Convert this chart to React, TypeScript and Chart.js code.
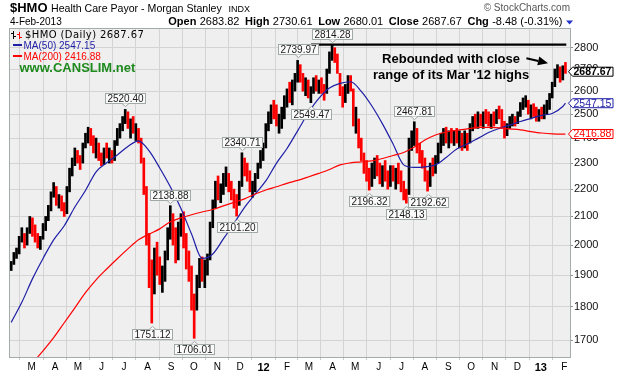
import { useEffect, useRef } from "react";
import { Chart, registerables } from "chart.js";

Chart.register(...registerables);

// ---- data (days counted from 1 Jan 2011) ----
const FIRST_BAR_DAY = 32;
const BAR_STEP_DAYS = 3.5;

const HIGHS = [
  1945, 1975, 1990, 2030, 2060, 2040, 2060, 2100, 2095, 2070, 2040, 2030, 2075, 2100, 2140, 2190, 2225, 2210, 2180, 2175,
  2150, 2210, 2280, 2320, 2360, 2350, 2330, 2380, 2420, 2445, 2440, 2410, 2400, 2380, 2340, 2360, 2380, 2360, 2350, 2390,
  2440, 2460, 2490, 2520.4, 2510, 2480, 2490, 2460, 2440, 2400, 2320, 2210, 2040, 1950, 1990, 2010, 1960, 1930, 1980, 2060,
  2138.88, 2110, 2060, 2080, 2110, 2117, 2040, 1980, 1930, 1840, 1900, 1955, 1960, 1950, 1970, 2080, 2160, 2230, 2250, 2220,
  2260, 2285, 2260, 2230, 2200, 2180, 2230, 2340.71, 2320, 2300, 2270, 2230, 2260, 2300, 2350, 2380, 2460, 2510, 2540, 2560,
  2540, 2500, 2530, 2580, 2610, 2640, 2650, 2680, 2739.97, 2720, 2680, 2660, 2650, 2620, 2660, 2670, 2650, 2660, 2630, 2700,
  2780, 2814.28, 2800, 2770, 2680, 2620, 2630, 2670, 2670, 2610, 2530, 2480, 2400, 2340, 2310, 2280, 2300, 2320, 2330, 2300,
  2290, 2310, 2270, 2290, 2290, 2280, 2300, 2270, 2230, 2200, 2400, 2430, 2467.81, 2440, 2380, 2350, 2320, 2270, 2300, 2320,
  2330, 2380, 2420, 2440, 2445, 2430, 2440, 2430, 2440, 2430, 2420, 2430, 2420, 2460, 2490, 2500, 2510, 2500, 2510, 2520,
  2510, 2500, 2510, 2520, 2535, 2520, 2470, 2460, 2490, 2500, 2490, 2510, 2550, 2570, 2580, 2560, 2540, 2545, 2530, 2520,
  2530, 2540, 2560, 2590, 2640, 2700, 2720, 2710, 2715, 2730.61,
];

const LOWS = [
  1915, 1935, 1955, 1970, 2010, 1990, 2000, 2040, 2030, 2010, 1990, 1985, 2020, 2050, 2085, 2120, 2170, 2140, 2130, 2120,
  2100, 2110, 2190, 2250, 2290, 2300, 2275, 2300, 2360, 2380, 2370, 2340, 2320, 2310, 2290, 2295, 2320, 2300, 2300, 2310,
  2370, 2400, 2430, 2460, 2440, 2400, 2420, 2390, 2380, 2300, 2180, 2000, 1860, 1751.12, 1840, 1900, 1870, 1845, 1880, 1950,
  2020, 2000, 1940, 1950, 2030, 1990, 1920, 1880, 1790, 1706.01, 1790, 1860, 1880, 1860, 1900, 1950, 2060, 2130, 2160, 2150,
  2180, 2210, 2190, 2160, 2130, 2101.2, 2140, 2210, 2250, 2230, 2190, 2170, 2190, 2240, 2280, 2310, 2360, 2430, 2460, 2480,
  2450, 2420, 2440, 2480, 2530, 2550, 2540, 2600, 2640, 2640, 2600, 2580, 2570, 2549.47, 2590, 2600, 2590, 2590, 2560, 2590,
  2680, 2740, 2730, 2680, 2580, 2530, 2550, 2590, 2600, 2450, 2420, 2360, 2310, 2260, 2230, 2196.32, 2210, 2240, 2250, 2220,
  2210, 2230, 2200, 2210, 2230, 2200, 2220, 2190, 2160, 2148.13, 2180, 2350, 2370, 2340, 2300, 2280, 2230, 2192.62, 2210, 2250,
  2260, 2300, 2340, 2370, 2380, 2360, 2380, 2370, 2380, 2360, 2350, 2360, 2350, 2380, 2430, 2440, 2440, 2450, 2440, 2460,
  2450, 2440, 2450, 2460, 2480, 2440, 2400, 2410, 2440, 2450, 2450, 2460, 2490, 2520, 2530, 2500, 2480, 2490, 2470, 2470,
  2480, 2480, 2500, 2520, 2570, 2620, 2660, 2640, 2650, 2680.01,
];

const CLOSES = [
  1935, 1965, 1975, 2020, 2040, 2000, 2050, 2085, 2045, 2020, 2000, 2025, 2060, 2090, 2130, 2180, 2200, 2150, 2165, 2130,
  2110, 2200, 2260, 2300, 2340, 2310, 2300, 2370, 2400, 2420, 2390, 2360, 2380, 2320, 2300, 2340, 2330, 2340, 2310, 2380,
  2430, 2445, 2480, 2500, 2460, 2470, 2430, 2440, 2400, 2320, 2200, 2030, 1900, 1880, 1960, 1930, 1890, 1910, 1960, 2040,
  2090, 2020, 1960, 2060, 2090, 2010, 1940, 1900, 1810, 1800, 1880, 1930, 1900, 1935, 1950, 2070, 2140, 2200, 2180, 2200,
  2240, 2250, 2210, 2170, 2150, 2130, 2210, 2300, 2270, 2250, 2200, 2210, 2240, 2290, 2330, 2370, 2440, 2490, 2520, 2500,
  2470, 2480, 2510, 2560, 2590, 2570, 2630, 2660, 2690, 2660, 2620, 2640, 2590, 2600, 2640, 2620, 2640, 2610, 2590, 2690,
  2770, 2780, 2750, 2700, 2600, 2560, 2610, 2650, 2620, 2480, 2500, 2380, 2330, 2280, 2260, 2230, 2280, 2300, 2260, 2240,
  2270, 2250, 2220, 2270, 2250, 2260, 2240, 2210, 2180, 2170, 2380, 2400, 2420, 2360, 2320, 2300, 2250, 2210, 2280, 2270,
  2320, 2370, 2400, 2420, 2400, 2420, 2400, 2420, 2390, 2410, 2370, 2400, 2380, 2450, 2480, 2460, 2490, 2470, 2500, 2480,
  2470, 2490, 2460, 2500, 2490, 2460, 2420, 2450, 2470, 2480, 2460, 2500, 2540, 2550, 2560, 2510, 2520, 2500, 2490, 2510,
  2500, 2530, 2540, 2580, 2630, 2690, 2700, 2660, 2700, 2687.67,
];

// moving averages, read every 4th bar (last value = last bar)
const MA_STEP_BARS = 4;
const MA50 = [
  1753, 1814, 1888, 1955, 2018, 2067, 2134, 2195, 2266, 2301, 2332, 2366, 2389, 2348, 2281, 2209, 2129, 2038, 1955, 1970,
  2021, 2075, 2133, 2182, 2231, 2299, 2358, 2430, 2505, 2568, 2614, 2635, 2642, 2599, 2535, 2459, 2376, 2293, 2283, 2285,
  2293, 2322, 2356, 2376, 2399, 2423, 2440, 2454, 2469, 2482, 2495, 2503, 2533, 2547.15,
];
const MA200 = [
  1565, 1600, 1636, 1670, 1708, 1752, 1797, 1844, 1885, 1920, 1954, 1987, 2018, 2038, 2056, 2081, 2095, 2106, 2116, 2125,
  2138, 2151, 2164, 2182, 2197, 2209, 2222, 2233, 2246, 2260, 2275, 2293, 2301, 2305, 2309, 2318, 2330, 2342, 2364, 2392,
  2413, 2425, 2432, 2438, 2444, 2444, 2442, 2438, 2434, 2427, 2421, 2417, 2416, 2416.88,
];

const MONTH_START_DAYS = [59, 90, 120, 151, 181, 212, 243, 273, 304, 334, 365, 396, 425, 456, 486, 517, 547, 578, 609, 639, 670, 700, 731, 762];
const MONTH_LABELS = ["M", "A", "M", "J", "J", "A", "S", "O", "N", "D", "12", "F", "M", "A", "M", "J", "J", "A", "S", "O", "N", "D", "13", "F"];
const YEAR_LABELS = ["12", "13"];
const Y_TICKS = [1700, 1800, 1900, 2000, 2100, 2200, 2300, 2400, 2500, 2600, 2700, 2800];
const X_MIN_DAY = 30.4;
const X_MAX_DAY = 769.5;
const Y_MIN = 1652.6;
const Y_MAX = 2890.6;

// labelled highs / lows
const ANNOT_BARS = [43, 53, 60, 69, 85, 87, 108, 113, 121, 135, 149, 152, 157];
const ANNOT_VALUES = [2520.4, 1751.12, 2138.88, 1706.01, 2101.2, 2340.71, 2739.97, 2549.47, 2814.28, 2196.32, 2148.13, 2467.81, 2192.62];
const ANNOT_SIDES = ["high", "low", "high", "low", "low", "high", "high", "low", "high", "low", "low", "high", "low"];

// resistance line at the March 2012 high
const RESIST_LEVEL = 2814.28;
const RESIST_START_DAY = 427.7;
const RESIST_END_DAY = 764.6;

// note and arrow (in data units)
const NOTE_LINES = ["Rebounded with close", "range of its Mar '12 highs"];
const NOTE_DAY = 612.5;
const NOTE_VALUES = [2730, 2655];
const ARROW_FROM = { day: 712, value: 2750 };
const ARROW_TO = { day: 740.5, value: 2727 };

const HEADER_QUOTE: [string, boolean][] = [
  ["Open", true], ["2683.82", false],
  ["High", true], ["2730.61", false],
  ["Low", true], ["2680.01", false],
  ["Close", true], ["2687.67", false],
  ["Chg", true], ["-8.48 (-0.31%)", false],
];

const FONT = '"Liberation Sans", Arial, sans-serif';
const BLUE = "#1e1ea6";
const RED = "#ff0000";

const barDay = (i: number) => FIRST_BAR_DAY + i * BAR_STEP_DAYS;
const maDay = (j: number) => barDay(Math.min(j * MA_STEP_BARS, HIGHS.length - 1));

function drawValueBox(ctx: CanvasRenderingContext2D, tipX: number, py: number, text: string, color: string, bold: boolean) {
  const left = tipX + 4;
  const right = 613;
  const hh = 4.5;
  ctx.beginPath();
  ctx.moveTo(tipX, py);
  ctx.lineTo(left, py - hh);
  ctx.lineTo(right, py - hh);
  ctx.lineTo(right, py + hh);
  ctx.lineTo(left, py + hh);
  ctx.closePath();
  ctx.fillStyle = "#ffffff";
  ctx.fill();
  ctx.strokeStyle = color;
  ctx.lineWidth = 1;
  ctx.stroke();
  ctx.fillStyle = color;
  ctx.font = `${bold ? "bold " : ""}10.5px ${FONT}`;
  ctx.textAlign = "left";
  ctx.textBaseline = "middle";
  ctx.fillText(text, left + 1, py + 0.5);
}

const decorPlugin = {
  id: "decor",
  beforeDraw(chart: any) {
    const { ctx, chartArea: a, width, height } = chart;
    ctx.save();
    ctx.fillStyle = "#ffffff";
    ctx.fillRect(0, 0, width, height);
    ctx.fillStyle = "#efefef";
    ctx.fillRect(a.left, a.top, a.right - a.left, a.bottom - a.top);
    ctx.restore();
  },
  afterDraw(chart: any) {
    const { ctx, chartArea: a } = chart;
    const xs = chart.scales.x;
    const ys = chart.scales.y;
    ctx.save();

    // plot border
    ctx.strokeStyle = "#a3abab";
    ctx.lineWidth = 1;
    ctx.strokeRect(a.left - 0.5, a.top - 0.5, a.right - a.left + 1, a.bottom - a.top + 1);

    // header
    ctx.textAlign = "left";
    ctx.textBaseline = "alphabetic";
    ctx.fillStyle = "#000";
    ctx.font = `bold 13px ${FONT}`;
    ctx.fillText("$HMO", 10, 12);
    ctx.font = `10.6px ${FONT}`;
    ctx.fillText("Health Care Payor - Morgan Stanley", 51, 12);
    ctx.font = `9px ${FONT}`;
    ctx.fillText("INDX", 228.5, 12);
    ctx.font = `10px ${FONT}`;
    ctx.fillText("4-Feb-2013", 10, 25);

    ctx.fillStyle = "#555";
    ctx.font = `10px ${FONT}`;
    ctx.textAlign = "right";
    ctx.fillText("\u00A9 StockCharts.com", 570, 11);
    ctx.textAlign = "left";

    let hx = 168.3;
    ctx.fillStyle = "#000";
    HEADER_QUOTE.forEach(([t, bold], k) => {
      ctx.font = `${bold ? "bold " : ""}11px ${FONT}`;
      ctx.fillText(t, hx, 25);
      hx += ctx.measureText(t).width + (k % 2 === 0 ? 3.3 : 5.6);
    });
    // down triangle
    ctx.fillStyle = "#2233cc";
    ctx.beginPath();
    ctx.moveTo(hx - 2, 20.5);
    ctx.lineTo(hx + 5, 20.5);
    ctx.lineTo(hx + 1.5, 24.5);
    ctx.closePath();
    ctx.fill();

    // legend in plot
    ctx.fillStyle = "#000";
    ctx.fillRect(13, 31, 1, 8);
    ctx.fillRect(11, 33, 2, 1);
    ctx.fillRect(14, 36, 2, 1);
    ctx.fillStyle = RED;
    ctx.fillRect(19, 32, 1, 7);
    ctx.fillRect(17, 34, 2, 1);
    ctx.fillRect(20, 37, 2, 1);
    ctx.fillStyle = "#000";
    ctx.font = `10px "DejaVu Sans", Verdana, sans-serif`;
    (ctx as any).letterSpacing = "0.4px";
    ctx.fillText("$HMO (Daily) 2687.67", 25, 37.7);
    (ctx as any).letterSpacing = "0px";

    ctx.fillStyle = BLUE;
    ctx.fillRect(13, 44, 9, 2);
    ctx.font = `10px ${FONT}`;
    ctx.fillText(`MA(50) ${MA50[MA50.length - 1].toFixed(2)}`, 23.5, 49);
    ctx.fillStyle = RED;
    ctx.fillRect(13, 55, 9, 2);
    ctx.fillText(`MA(200) ${MA200[MA200.length - 1].toFixed(2)}`, 23.5, 60.3);

    ctx.fillStyle = "#1e8a1e";
    ctx.font = `bold 13px ${FONT}`;
    ctx.fillText("www.CANSLIM.net", 19.5, 71.7);

    // high/low labels
    ctx.font = `10px ${FONT}`;
    ANNOT_BARS.forEach((bi, k) => {
      const px = Math.round(xs.getPixelForValue(barDay(bi)));
      const py = ys.getPixelForValue(ANNOT_VALUES[k]);
      const text = ANNOT_VALUES[k].toFixed(2);
      const w = Math.round(ctx.measureText(text).width + 4);
      const h = 10;
      const above = ANNOT_SIDES[k] === "high";
      const cy = above ? py - 11 : py + 11;
      const bx = Math.round(px - w / 2) + 0.5;
      const by = Math.round(cy - h / 2) + 0.5;
      ctx.fillStyle = "#fafafa";
      ctx.strokeStyle = "#a0a8a8";
      ctx.lineWidth = 1;
      ctx.fillRect(bx, by, w, h);
      ctx.strokeRect(bx, by, w, h);
      // pointer
      ctx.beginPath();
      if (above) {
        ctx.moveTo(px - 3, by + h);
        ctx.lineTo(px + 0.5, by + h + 3);
        ctx.lineTo(px + 4, by + h);
      } else {
        ctx.moveTo(px - 3, by);
        ctx.lineTo(px + 0.5, by - 3);
        ctx.lineTo(px + 4, by);
      }
      ctx.fillStyle = "#fafafa";
      ctx.fill();
      ctx.stroke();
      ctx.fillStyle = "#1a1a1a";
      ctx.textAlign = "center";
      ctx.textBaseline = "middle";
      ctx.fillText(text, bx + w / 2, by + h / 2 + 0.5);
    });

    // note text
    ctx.fillStyle = "#000";
    ctx.font = `bold 13px ${FONT}`;
    ctx.textAlign = "center";
    ctx.textBaseline = "alphabetic";
    NOTE_LINES.forEach((t, k) => {
      ctx.fillText(t, xs.getPixelForValue(NOTE_DAY), ys.getPixelForValue(NOTE_VALUES[k]));
    });

    // arrow
    const ax1 = xs.getPixelForValue(ARROW_FROM.day);
    const ay1 = ys.getPixelForValue(ARROW_FROM.value);
    const ax2 = xs.getPixelForValue(ARROW_TO.day);
    const ay2 = ys.getPixelForValue(ARROW_TO.value);
    const ang = Math.atan2(ay2 - ay1, ax2 - ax1);
    const headLen = 10;
    const bxh = ax2 - headLen * Math.cos(ang);
    const byh = ay2 - headLen * Math.sin(ang);
    ctx.strokeStyle = "#000";
    ctx.lineWidth = 2;
    ctx.beginPath();
    ctx.moveTo(ax1, ay1);
    ctx.lineTo(bxh, byh);
    ctx.stroke();
    ctx.fillStyle = "#000";
    ctx.beginPath();
    ctx.moveTo(ax2, ay2);
    ctx.lineTo(bxh + 4.5 * Math.sin(ang), byh - 4.5 * Math.cos(ang));
    ctx.lineTo(bxh - 4.5 * Math.sin(ang), byh + 4.5 * Math.cos(ang));
    ctx.closePath();
    ctx.fill();

    // right-hand value boxes
    const tipX = a.right - 1.5;
    drawValueBox(ctx, tipX, ys.getPixelForValue(MA200[MA200.length - 1]), MA200[MA200.length - 1].toFixed(2), RED, false);
    drawValueBox(ctx, tipX, ys.getPixelForValue(MA50[MA50.length - 1]), MA50[MA50.length - 1].toFixed(2), BLUE, false);
    drawValueBox(ctx, tipX, ys.getPixelForValue(CLOSES[CLOSES.length - 1]), CLOSES[CLOSES.length - 1].toFixed(2), "#000", true);

    ctx.restore();
  },
};

export default function App() {
  const ref = useRef<HTMLCanvasElement | null>(null);

  useEffect(() => {
    if (!ref.current) return;
    const barData = HIGHS.map((h, i) => ({ x: barDay(i), y: [LOWS[i], h] }));
    const barColors = CLOSES.map((c, i) => (i > 0 && c < CLOSES[i - 1] ? RED : "#000000"));
    const ma50Data = MA50.map((v, j) => ({ x: maDay(j), y: v }));
    const ma200Data = MA200.map((v, j) => ({ x: maDay(j), y: v }));
    const resistData = [
      { x: RESIST_START_DAY, y: RESIST_LEVEL },
      { x: RESIST_END_DAY, y: RESIST_LEVEL },
    ];

    const chart = new Chart(ref.current, {
      type: "bar",
      data: {
        datasets: [
          {
            type: "bar",
            data: barData as any,
            backgroundColor: barColors,
            borderWidth: 0,
            barThickness: 2,
            order: 3,
          } as any,
          {
            type: "line",
            data: ma200Data as any,
            borderColor: RED,
            borderWidth: 1.2,
            pointRadius: 0,
            cubicInterpolationMode: "monotone",
            order: 1,
          } as any,
          {
            type: "line",
            data: ma50Data as any,
            borderColor: BLUE,
            borderWidth: 1.2,
            pointRadius: 0,
            cubicInterpolationMode: "monotone",
            order: 1,
          } as any,
          {
            type: "line",
            data: resistData as any,
            borderColor: "#000",
            borderWidth: 2.2,
            pointRadius: 0,
            order: 0,
          } as any,
        ],
      },
      options: {
        animation: false,
        responsive: false,
        devicePixelRatio: 1,
        events: [],
        layout: { padding: { left: 10, top: 29, right: 0, bottom: 0 } },
        plugins: { legend: { display: false }, tooltip: { enabled: false } },
        scales: {
          x: {
            type: "linear",
            min: X_MIN_DAY,
            max: X_MAX_DAY,
            offset: false,
            afterBuildTicks: (s: any) => {
              s.ticks = MONTH_START_DAYS.map((v) => ({ value: v }));
            },
            afterFit: (s: any) => {
              s.height = 16;
            },
            ticks: {
              autoSkip: false,
              maxRotation: 0,
              padding: 1,
              color: "#000",
              font: (c: any) =>
                YEAR_LABELS.includes(MONTH_LABELS[c.index])
                  ? { family: FONT, size: 11, weight: "bold" }
                  : { family: FONT, size: 10 },
              callback: (_v: any, i: number) => MONTH_LABELS[i],
            },
            grid: { color: "#d4d4d4", tickLength: 3, tickColor: "#c8c8c8" },
            border: { display: false },
          } as any,
          y: {
            type: "logarithmic",
            position: "right",
            min: Y_MIN,
            max: Y_MAX,
            afterBuildTicks: (s: any) => {
              s.ticks = Y_TICKS.map((v) => ({ value: v }));
            },
            afterFit: (s: any) => {
              s.width = 50;
            },
            ticks: {
              autoSkip: false,
              padding: 1,
              color: "#111",
              font: { family: FONT, size: 11 },
              callback: (v: any) => String(v),
            },
            grid: { color: "#d4d4d4", tickLength: 3, tickColor: "#8a9494" },
            border: { display: false },
          } as any,
        },
      },
      plugins: [decorPlugin],
    });
    return () => chart.destroy();
  }, []);

  return (
    <div style={{ position: "fixed", left: 0, top: 0, width: 620, height: 373, background: "#fff" }}>
      <canvas ref={ref} width={620} height={373} style={{ display: "block", width: 620, height: 373 }} />
    </div>
  );
}
